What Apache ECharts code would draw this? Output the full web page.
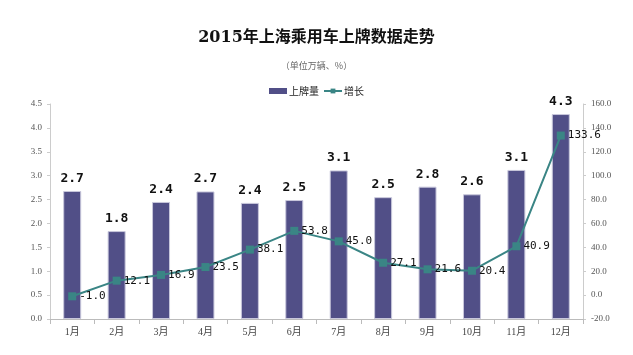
<!DOCTYPE html>
<html><head><meta charset="utf-8">
<script src="https://cdn.jsdelivr.net/npm/echarts@6/dist/echarts.min.js"></script>
<style>html,body{margin:0;padding:0;background:#fff}#c{width:633px;height:355px}</style>
</head><body><div id="c"></div>
<script>
const categories = ['1月','2月','3月','4月','5月','6月','7月','8月','9月','10月','11月','12月'];
const plates = [2.68, 1.84, 2.45, 2.67, 2.43, 2.49, 3.11, 2.55, 2.77, 2.61, 3.12, 4.29];
const plateLabels = ['2.7','1.8','2.4','2.7','2.4','2.5','3.1','2.5','2.8','2.6','3.1','4.3'];
const growth = [-1.0, 12.1, 16.9, 23.5, 38.1, 53.8, 45.0, 27.1, 21.6, 20.4, 40.9, 133.6];
const serif = '"Liberation Serif","DejaVu Serif","Noto Sans CJK SC",serif';
const chart = echarts.init(document.getElementById('c'));
chart.setOption({
  animation:false,
  title:[{text:'2015年上海乘用车上牌数据走势',left:'center',top:25,
    textStyle:{fontFamily:'"DejaVu Serif","Noto Sans CJK SC",serif',fontSize:16,fontWeight:'bold',color:'#111'}},
    {text:'（单位万辆、%）',left:'center',top:56,textStyle:{fontFamily:'"Noto Sans CJK SC",sans-serif',fontSize:9,fontWeight:'normal',color:'#666'}}],
  legend:{top:81,left:'center',itemWidth:18,itemHeight:6,itemGap:4,
    textStyle:{fontFamily:'"Noto Sans CJK SC",sans-serif',fontSize:10,color:'#222',padding:[0,0,0,-3]},
    data:[{name:'上牌量',icon:'rect',itemStyle:{borderWidth:0}},{name:'增长'}]},
  grid:{left:50,right:50,top:104,bottom:36},
  xAxis:{type:'category',data:categories,
    axisLine:{lineStyle:{color:'#bbb'}},axisTick:{show:true,lineStyle:{color:'#bbb'}},
    axisLabel:{fontFamily:serif,fontSize:10,color:'#444',margin:8}},
  yAxis:[{type:'value',min:0,max:4.5,interval:0.5,
    axisLine:{show:true,lineStyle:{color:'#ccc'}},axisTick:{show:true,length:3,lineStyle:{color:'#ccc'}},
    splitLine:{show:false},
    axisLabel:{fontFamily:serif,fontSize:9,color:'#555',formatter:v=>v.toFixed(1)}},
   {type:'value',min:-20,max:160,interval:20,
    axisLine:{show:true,lineStyle:{color:'#ccc'}},axisTick:{show:true,length:3,lineStyle:{color:'#ccc'}},
    splitLine:{show:false},
    axisLabel:{fontFamily:serif,fontSize:9,color:'#555',formatter:v=>v.toFixed(1)}}],
  series:[{name:'上牌量',type:'bar',data:plates,barWidth:18,
    itemStyle:{color:'#514F87',borderColor:'#c9c8dc',borderWidth:1},
    label:{show:true,position:'top',distance:6,fontFamily:'"DejaVu Sans Mono","Liberation Mono",monospace',fontSize:13,fontWeight:'bold',color:'#111',
      formatter:p=>plateLabels[p.dataIndex]}},
   {name:'增长',type:'line',yAxisIndex:1,data:growth,symbol:'rect',symbolSize:8,
    lineStyle:{color:'#3A8585',width:2},itemStyle:{color:'#3A8585'},
    label:{show:true,position:'right',distance:3,fontFamily:'"DejaVu Sans Mono","Liberation Mono",monospace',fontSize:11,color:'#111',
      formatter:p=>p.value.toFixed(1)}}]
});
</script></body></html>
